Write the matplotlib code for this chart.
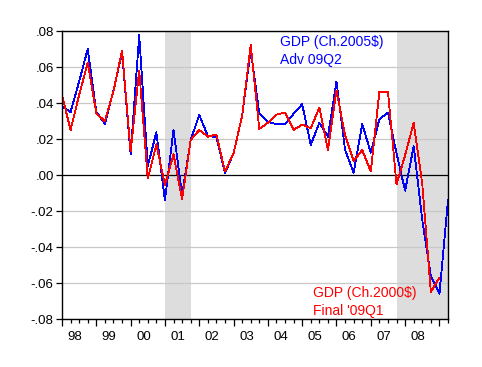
import matplotlib
matplotlib.use("Agg")
import matplotlib.pyplot as plt
import numpy as np

# Quarterly GDP growth, 1998Q1 .. 2009Q2
start_year = 1998
gdp_2005_adv09q2 = [0.038, 0.035, 0.052, 0.070, 0.035, 0.0285, 0.047, 0.068,
                    0.0115, 0.0776, 0.005, 0.0237, -0.014, 0.025, -0.011, 0.0194,
                    0.0333, 0.0217, 0.021, 0.0012, 0.012, 0.033, 0.0694, 0.0343,
                    0.0295, 0.0283, 0.0283, 0.034, 0.0393, 0.0167, 0.029, 0.0213,
                    0.052, 0.0139, 0.0013, 0.0283, 0.0124, 0.031, 0.0346, 0.012,
                    -0.0087, 0.016, -0.025, -0.056, -0.066, -0.014]
gdp_2000_final09q1 = [0.0445, 0.025, 0.0445, 0.0623, 0.0344, 0.0298, 0.0465, 0.0692,
                      0.013, 0.058, -0.002, 0.017, -0.0056, 0.0115, -0.0135, 0.0194,
                      0.025, 0.0213, 0.0225, 0.002, 0.012, 0.033, 0.0722, 0.0256,
                      0.029, 0.0335, 0.0347, 0.025, 0.028, 0.026, 0.0375, 0.0139,
                      0.047, 0.022, 0.0078, 0.0139, 0.0019, 0.0463, 0.0463, -0.0052,
                      0.011, 0.029, -0.005, -0.065, -0.057]
year_labels = ["98", "99", "00", "01", "02", "03", "04", "05", "06", "07", "08"]
recessions = [(2001, 1, 2001, 4), (2007, 4, 2009, 2)]
label_blue = ["GDP (Ch.2005$)", "Adv 09Q2"]
label_red = ["GDP (Ch.2000$)", "Final '09Q1"]

plt.rcParams['font.family'] = ['Liberation Sans', 'DejaVu Sans']

def qidx(y, q):
    return (y - start_year) * 4 + (q - 1)

fig = plt.figure(figsize=(4.82, 3.67), dpi=100)
ax = fig.add_axes([62/482, (367-319)/367, (448-62)/482, (319-31)/367])

for (y0, q0, y1, q1) in recessions:
    ax.axvspan(qidx(y0, q0), qidx(y1, q1), color='#dddddd', lw=0, zorder=0)

for v in np.arange(-0.08, 0.081, 0.02):
    if abs(v) < 1e-9:
        ax.axhline(0, color='black', lw=0.9, zorder=1)
    else:
        ax.axhline(v, color='#c8c8c8', lw=0.9, zorder=1)

xb = np.arange(len(gdp_2005_adv09q2))
xr = np.arange(len(gdp_2000_final09q1))
ax.plot(xb, gdp_2005_adv09q2, color='#0000ff', lw=0.6, zorder=3, antialiased=False)
ax.plot(xr, gdp_2000_final09q1, color='#ff0000', lw=0.6, zorder=3, antialiased=False)

ax.set_xlim(0, len(gdp_2005_adv09q2) - 1)
ax.set_ylim(-0.08, 0.08)

yt = np.arange(-0.08, 0.081, 0.02)
ax.set_yticks(yt)
def fmt(v):
    s = f"{v:.2f}"
    s = s.replace("0.", ".")
    if s == "-.00":
        s = ".00"
    return s
ax.set_yticklabels([fmt(v) for v in yt])

ax.set_xticks(np.arange(0, len(gdp_2005_adv09q2), 4))
ax.set_xticklabels([])
ax.set_xticks(np.arange(0, len(gdp_2005_adv09q2), 1), minor=True)
ax.tick_params(axis='x', which='major', length=5, width=0.9, direction='out')
ax.tick_params(axis='x', which='minor', length=3, width=0.9, direction='out')
ax.tick_params(axis='y', which='major', length=4, width=0.9, direction='out', labelsize=9.5, pad=2)

for i, lab in enumerate(year_labels):
    ax.text(i * 4 + 1.5, -0.0865, lab, ha='center', va='top', fontsize=9.5)

for s in ax.spines.values():
    s.set_linewidth(1.0)
    s.set_zorder(5)

ax.text((280 - 62) / 8.578, 0.08 - (42 - 31) / 1800, label_blue[0], color='#0000ff',
        fontsize=10, ha='left', va='center')
ax.text((280 - 62) / 8.578, 0.08 - (60 - 31) / 1800, label_blue[1], color='#0000ff',
        fontsize=10, ha='left', va='center')
ax.text((313 - 62) / 8.578, 0.08 - (293 - 31) / 1800, label_red[0], color='#ff0000',
        fontsize=10, ha='left', va='center')
ax.text((313 - 62) / 8.578, 0.08 - (311 - 31) / 1800, label_red[1], color='#ff0000',
        fontsize=10, ha='left', va='center')

fig.savefig("out.png", dpi=100)
